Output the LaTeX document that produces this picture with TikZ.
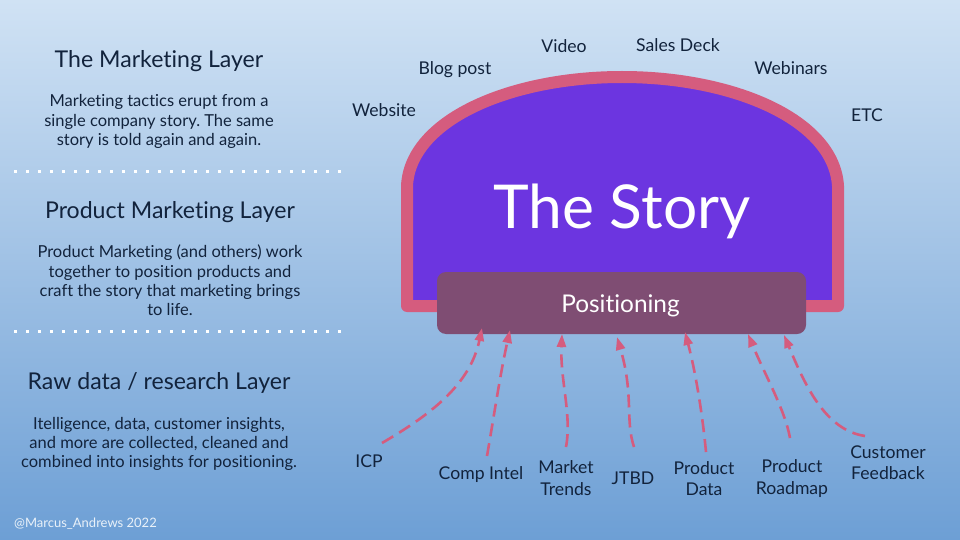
\documentclass[tikz,border=0pt]{standalone}
\usepackage{fontspec}
\setmainfont[Ligatures=NoCommon]{Lato}
\frenchspacing
\usetikzlibrary{arrows.meta}
\definecolor{inkblue}{HTML}{12233C}
\definecolor{skytop}{HTML}{D0E2F4}
\definecolor{skybot}{HTML}{6D9FD5}
\definecolor{rosepink}{HTML}{D55C7E}
\definecolor{storypurple}{HTML}{6C35E0}
\definecolor{posmauve}{HTML}{7F4D73}
\tikzset{
	tag/.style={text=inkblue,align=center,inner sep=0pt,font=\fontsize{17.6}{21.5}\selectfont},
	layertitle/.style={text=inkblue,align=center,inner sep=0pt,font=\fontsize{23.1}{26}\selectfont},
	layerbody/.style={text=inkblue,align=center,inner sep=0pt,font=\fontsize{16.5}{19.4}\selectfont},
	divider/.style={white,line width=3pt,dash pattern=on 3pt off 9pt},
	feed/.style={rosepink,line width=2.6pt,dash pattern=on 13pt off 7pt,-{Triangle[length=13pt,width=9pt]}},
}
\begin{document}
\begin{tikzpicture}[x=1pt,y=-1pt]
	\shade[top color=skytop,bottom color=skybot] (0,0) rectangle (960,540);
	\useasboundingbox (0,0) rectangle (960,540);
	% the dome
	\draw[rosepink,line width=12pt,line join=round,fill=storypurple] (407,306) -- (407,186)
		.. controls (410,120) and (510,77) .. (622,77)
		.. controls (734,77) and (834,120) .. (838,186) -- (838,306) -- cycle;
	\node[text=white,inner sep=0pt,font=\fontsize{60.5}{70}\selectfont] (story) at (622,211) {The Story};
	\node[fill=posmauve,rounded corners=9pt,minimum width=369pt,minimum height=62pt,inner sep=0pt] (pos) at (621.5,303) {};
	\node[text=white,inner sep=0pt,font=\fontsize{24.4}{28}\selectfont] (poslabel) at (620.5,305.5) {Positioning};
	% outputs
	\node[tag] (website) at (384,110) {Website};
	\node[tag] (blog) at (455,69.5) {Blog post};
	\node[tag] (video) at (564,46) {Video};
	\node[tag] (deck) at (678,45) {Sales Deck};
	\node[tag] (webinars) at (791,68) {Webinars};
	\node[tag] (etc) at (867,115) {ETC};
	% inputs
	\node[tag] (icp) at (369,461) {ICP};
	\node[tag] (comp) at (481,474.5) {Comp Intel};
	\node[tag] (trends) at (566,478) {Market\\Trends};
	\node[tag] (jtbd) at (633,478) {JTBD};
	\node[tag] (data) at (704,478.5) {Product\\Data};
	\node[tag] (roadmap) at (792,478.5) {Product\\Roadmap};
	\node[tag] (feedback) at (888,462.5) {Customer\\Feedback};
	% arrow ends
	\coordinate (a1) at (382,443);
	\coordinate (b1) at (482,328);
	\coordinate (a2) at (487,456);
	\coordinate (b2) at (510,330);
	\coordinate (a3) at (566,447);
	\coordinate (b3) at (562,334);
	\coordinate (a4) at (634,447);
	\coordinate (b4) at (617,337);
	\coordinate (a5) at (706,452);
	\coordinate (b5) at (685,332);
	\coordinate (a6) at (790,438);
	\coordinate (b6) at (748,334);
	\coordinate (a7) at (865,436);
	\coordinate (b7) at (784,335);
	\draw[feed] (a1) .. controls (430,415) and (470,385) .. (b1);
	\draw[feed] (a2) .. controls (495,410) and (500,375) .. (b2);
	\draw[feed] (a3) .. controls (572,415) and (560,380) .. (b3);
	\draw[feed] (a4) .. controls (625,420) and (634,395) .. (b4);
	\draw[feed] (a5) .. controls (702,410) and (695,370) .. (b5);
	\draw[feed] (a6) .. controls (785,410) and (765,375) .. (b6);
	\draw[feed] (a7) .. controls (825,430) and (805,385) .. (b7);
	% left column
	\node[layertitle] (mkt) at (159,61) {The Marketing Layer};
	\node[layerbody] (mktbody) at (159,121.5) {Marketing tactics erupt from a\\single company story. The same\\story is told again and again.};
	\node[layertitle] (prod) at (170,212) {Product Marketing Layer};
	\node[layerbody] (prodbody) at (170,280.5) {Product Marketing (and others) work\\together to position products and\\craft the story that marketing brings\\to life.};
	\node[layertitle] (raw) at (159,383) {Raw data / research Layer};
	\node[layerbody] (rawbody) at (159,444) {Itelligence, data, customer insights,\\and more are collected, cleaned and\\combined into insights for positioning.};
	\coordinate (d1) at (14,172);
	\coordinate (d2) at (342,172);
	\coordinate (d3) at (14,331);
	\coordinate (d4) at (342,331);
	\draw[divider] (d1) -- (d2);
	\draw[divider] (d3) -- (d4);
	\node[anchor=west,inner sep=0pt,text=white!85!skybot,font=\fontsize{13}{15}\selectfont] (credit) at (14,524) {@Marcus\_Andrews 2022};
\end{tikzpicture}
\end{document}
